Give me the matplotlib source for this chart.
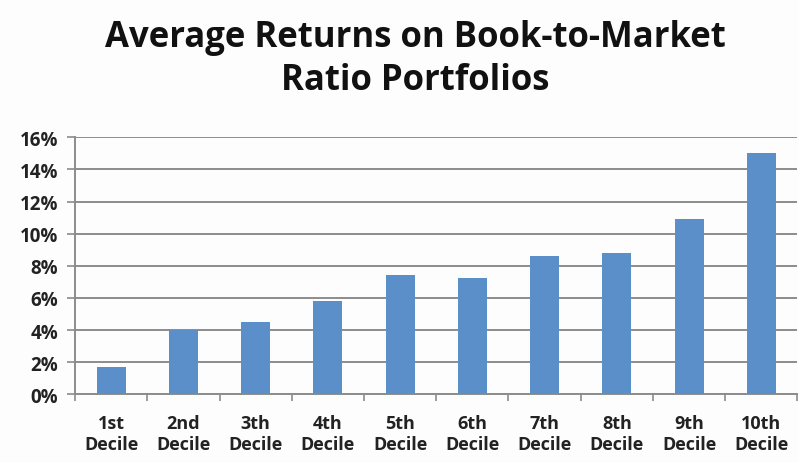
import matplotlib.pyplot as plt
import numpy as np
from matplotlib.ticker import FuncFormatter, FixedLocator

# data
deciles = ["1st\nDecile", "2nd\nDecile", "3th\nDecile", "4th\nDecile", "5th\nDecile",
           "6th\nDecile", "7th\nDecile", "8th\nDecile", "9th\nDecile", "10th\nDecile"]
returns = [1.7, 4.0, 4.5, 5.8, 7.4, 7.25, 8.6, 8.8, 10.9, 15.05]
y_ticks = [0, 2, 4, 6, 8, 10, 12, 14, 16]

plt.rcParams['font.family'] = ['Open Sans', 'DejaVu Sans']

fig = plt.figure(figsize=(7.99, 4.64), dpi=100)
fig.patch.set_facecolor("#fdfdfd")
ax = fig.add_axes([0.094, 0.148, 0.904, 0.554])
ax.set_facecolor("#fdfdfd")

x = np.arange(len(deciles))
ax.bar(x, returns, width=0.4, color="#5b8fc9", zorder=3)

ax.set_xlim(-0.5, len(deciles) - 0.5)
ax.set_ylim(0, 16)
ax.set_yticks(y_ticks)
ax.yaxis.set_major_formatter(FuncFormatter(lambda v, p: f"{v:.0f}%"))
ax.grid(axis="y", color="#8c8c8c", linewidth=1.4, zorder=0)

ax.set_xticks(x)
ax.set_xticklabels(deciles, fontsize=13, fontweight="bold", color="#222222", linespacing=1.2)
ax.tick_params(axis="x", length=0, pad=14)
ax.xaxis.set_minor_locator(FixedLocator(np.arange(-0.5, len(deciles), 1)))
ax.tick_params(axis="x", which="minor", length=5, color="#8c8c8c", width=1.2)
ax.tick_params(axis="y", length=6, color="#8c8c8c", width=1.2, labelsize=13.5, pad=6)
for lbl in ax.get_yticklabels():
    lbl.set_fontweight("bold")
    lbl.set_color("#222222")

for side in ["top", "right"]:
    ax.spines[side].set_visible(False)
ax.spines["left"].set_color("#8c8c8c")
ax.spines["left"].set_linewidth(1.4)
ax.spines["bottom"].set_color("#8c8c8c")
ax.spines["bottom"].set_linewidth(1.4)

fig.text(0.52, 0.872, "Average Returns on Book-to-Market\nRatio Portfolios",
         ha="center", va="center", fontsize=25, fontweight="bold", color="#111111",
         linespacing=1.27)

fig.savefig("out.png", dpi=100, facecolor=fig.get_facecolor())
